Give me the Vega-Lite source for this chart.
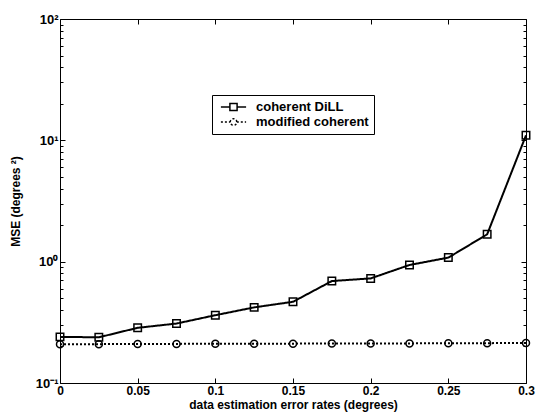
{
  "$schema": "https://vega.github.io/schema/vega-lite/v6.json",
  "width": 466,
  "height": 364,
  "autosize": {"type": "none"},
  "padding": {"left": 60, "top": 19, "right": 14, "bottom": 33},
  "background": "white",
  "config": {
    "font": "Liberation Sans",
    "view": {"stroke": "black", "strokeWidth": 1},
    "axis": {
      "grid": false,
      "domain": false,
      "tickColor": "black",
      "tickWidth": 1,
      "labelColor": "black",
      "titleColor": "black",
      "labelFont": "Liberation Sans",
      "titleFont": "Liberation Sans",
      "labelFontSize": 12,
      "labelFontWeight": "bold",
      "titleFontSize": 12,
      "titleFontWeight": "bold"
    }
  },
  "data": {
    "values": [
      {"series": "coherent DiLL", "rate": 0, "mse": 0.240},
      {"series": "coherent DiLL", "rate": 0.025, "mse": 0.238},
      {"series": "coherent DiLL", "rate": 0.05, "mse": 0.285},
      {"series": "coherent DiLL", "rate": 0.075, "mse": 0.309},
      {"series": "coherent DiLL", "rate": 0.1, "mse": 0.362},
      {"series": "coherent DiLL", "rate": 0.125, "mse": 0.420},
      {"series": "coherent DiLL", "rate": 0.15, "mse": 0.467},
      {"series": "coherent DiLL", "rate": 0.175, "mse": 0.692},
      {"series": "coherent DiLL", "rate": 0.2, "mse": 0.728},
      {"series": "coherent DiLL", "rate": 0.225, "mse": 0.939},
      {"series": "coherent DiLL", "rate": 0.25, "mse": 1.08},
      {"series": "coherent DiLL", "rate": 0.275, "mse": 1.68},
      {"series": "coherent DiLL", "rate": 0.3, "mse": 11.0},
      {"series": "modified coherent", "rate": 0, "mse": 0.209},
      {"series": "modified coherent", "rate": 0.025, "mse": 0.209},
      {"series": "modified coherent", "rate": 0.05, "mse": 0.210},
      {"series": "modified coherent", "rate": 0.075, "mse": 0.210},
      {"series": "modified coherent", "rate": 0.1, "mse": 0.211},
      {"series": "modified coherent", "rate": 0.125, "mse": 0.211},
      {"series": "modified coherent", "rate": 0.15, "mse": 0.211},
      {"series": "modified coherent", "rate": 0.175, "mse": 0.212},
      {"series": "modified coherent", "rate": 0.2, "mse": 0.212},
      {"series": "modified coherent", "rate": 0.225, "mse": 0.212},
      {"series": "modified coherent", "rate": 0.25, "mse": 0.213},
      {"series": "modified coherent", "rate": 0.275, "mse": 0.213},
      {"series": "modified coherent", "rate": 0.3, "mse": 0.214}
    ]
  },
  "layer": [
    {
      "mark": {"type": "line", "color": "black", "strokeWidth": 2},
      "encoding": {
        "x": {
          "field": "rate", "type": "quantitative",
          "scale": {"domain": [0, 0.3], "nice": false, "zero": false},
          "axis": {
            "orient": "bottom",
            "values": [0, 0.05, 0.1, 0.15, 0.2, 0.25, 0.3],
            "format": "~g",
            "tickSize": -5,
            "labelPadding": 7,
            "labelFlush": false,
            "title": "data estimation error rates (degrees)",
            "titlePadding": 3
          }
        },
        "y": {
          "field": "mse", "type": "quantitative",
          "scale": {"type": "log", "domain": [0.1, 100], "nice": false},
          "axis": {
            "orient": "left",
            "values": [0.1, 1, 10, 100],
            "labelExpr": "datum.value < 0.5 ? '10⁻¹' : datum.value < 5 ? '10⁰' : datum.value < 50 ? '10¹' : '10²'",
            "tickSize": -5,
            "labelPadding": 7,
            "labelFlush": false,
            "labelFontSize": 13,
            "title": "MSE (degrees ²)",
            "titlePadding": 13
          }
        },
        "strokeDash": {
          "field": "series", "type": "nominal",
          "scale": {"domain": ["coherent DiLL", "modified coherent"], "range": [[1, 0], [2, 2]]},
          "legend": {
            "orient": "none",
            "legendX": 152,
            "legendY": 76,
            "title": null,
            "direction": "vertical",
            "padding": 5,
            "strokeColor": "black",
            "fillColor": "white",
            "labelFont": "Liberation Sans",
            "labelFontSize": 13,
            "labelFontWeight": "bold",
            "labelColor": "black",
            "symbolSize": 144,
            "symbolOffset": 9.5,
            "labelOffset": 15.5,
            "rowPadding": 1,
            "symbolStrokeWidth": 1.5,
            "symbolStrokeColor": "black",
            "encode": {
              "symbols": {
                "update": {
                  "shape": {"signal": "datum.value === 'coherent DiLL' ? 'M-2.1,0H-0.6M0.6,0H2.1M-0.6,-0.6H0.6V0.6H-0.6Z' : 'M-2.1,0H-0.55M0.55,0H2.1M-0.55,0A0.55,0.55 0 1,1 0.55,0A0.55,0.55 0 1,1 -0.55,0'"},
                  "fill": {"value": "transparent"},
                  "stroke": {"value": "black"}
                }
              }
            }
          }
        }
      }
    },
    {
      "transform": [{"filter": "datum.series === 'coherent DiLL'"}],
      "mark": {"type": "point", "shape": "square", "filled": false, "color": "black", "strokeWidth": 1.5, "size": 56, "opacity": 1},
      "encoding": {
        "x": {
          "field": "rate", "type": "quantitative",
          "axis": {"orient": "top", "values": [0, 0.05, 0.1, 0.15, 0.2, 0.25, 0.3], "labels": false, "tickSize": -5, "title": null}
        },
        "y": {
          "field": "mse", "type": "quantitative",
          "axis": {"orient": "right", "values": [0.1, 1, 10, 100], "labels": false, "tickSize": -5, "title": null}
        }
      }
    },
    {
      "transform": [{"filter": "datum.series === 'modified coherent'"}],
      "mark": {"type": "point", "shape": "circle", "filled": false, "color": "black", "strokeWidth": 1.5, "size": 49, "opacity": 1},
      "encoding": {
        "x": {"field": "rate", "type": "quantitative", "axis": null},
        "y": {
          "field": "mse", "type": "quantitative",
          "axis": {"orient": "left", "values": [0.2, 0.3, 0.4, 0.5, 0.6, 0.7, 0.8, 0.9, 2, 3, 4, 5, 6, 7, 8, 9, 20, 30, 40, 50, 60, 70, 80, 90], "labels": false, "tickSize": -3, "title": null}
        }
      }
    },
    {
      "mark": {"type": "point", "opacity": 0},
      "encoding": {
        "x": {"field": "rate", "type": "quantitative", "axis": null},
        "y": {
          "field": "mse", "type": "quantitative",
          "axis": {"orient": "right", "values": [0.2, 0.3, 0.4, 0.5, 0.6, 0.7, 0.8, 0.9, 2, 3, 4, 5, 6, 7, 8, 9, 20, 30, 40, 50, 60, 70, 80, 90], "labels": false, "tickSize": -3, "title": null}
        }
      }
    }
  ]
}
